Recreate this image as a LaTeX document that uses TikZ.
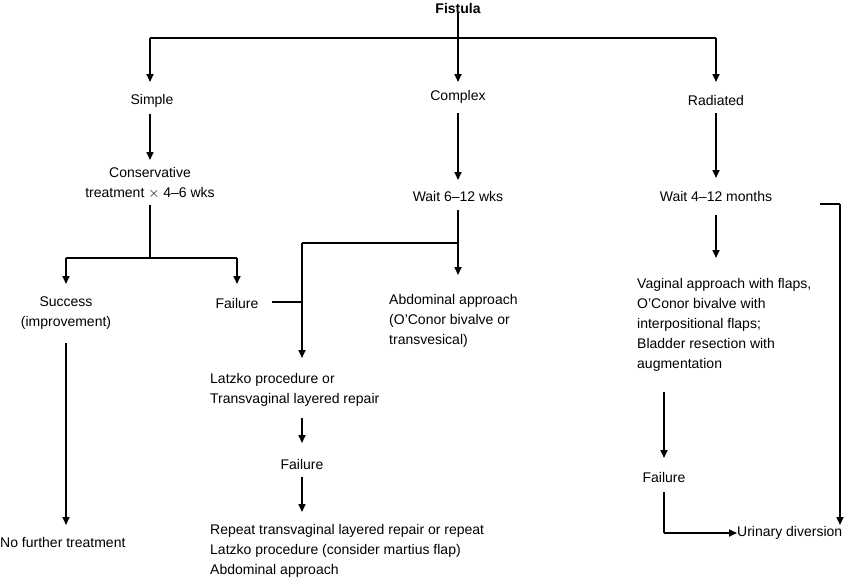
\documentclass[tikz,border=0pt]{standalone}
\usepackage{fontspec}
\setmainfont{Liberation Sans}
\usetikzlibrary{arrows.meta}
\begin{document}
\begin{tikzpicture}[x=1pt,y=-1pt,
  t/.style={font=\fontsize{14}{20}\selectfont,inner sep=0pt,align=center},
  l/.style={t,anchor=north west,align=left},
  ln/.style={line width=1.6pt},
  ar/.style={ln,-{Triangle[length=8pt,width=7pt]}}]
\useasboundingbox (0,0) rectangle (850,581);
\node[t,font=\fontsize{14}{20}\selectfont\bfseries] (fis) at (458,8) {Fistula};
\node[t] (simple) at (152,101) {Simple};
\node[t] (complex) at (458,97) {Complex};
\node[t] (rad) at (716,100) {Radiated};
\node[t] (cons) at (150,183) {Conservative\\treatment $\times$ 4–6 wks};
\node[t] (succ) at (66,313) {Success\\(improvement)};
\node[t] (fail1) at (237,303) {Failure};
\node[t,anchor=west] (nft) at (0,542) {No further treatment};
\node[t] (wait1) at (458,196) {Wait 6–12 wks};
\node[l] (abd) at (389,294) {Abdominal approach\\(O’Conor bivalve or\\transvesical)};
\node[l] (lat) at (210,373) {Latzko procedure or\\Transvaginal layered repair};
\node[t] (fail2) at (302,464) {Failure};
\node[l] (rep) at (210,524) {Repeat transvaginal layered repair or repeat\\Latzko procedure (consider martius flap)\\Abdominal approach};
\node[t] (wait2) at (716,196) {Wait 4–12 months};
\node[l] (vag) at (637,278) {Vaginal approach with flaps,\\O’Conor bivalve with\\interpositional flaps;\\Bladder resection with\\augmentation};
\node[t] (fail3) at (664,477) {Failure};
\node[t,anchor=west] (uri) at (737,533) {Urinary diversion};
% top
\draw[ln] (150,38) -- (716,38);
\draw[ar] (fis.south) -- (458,82);
\draw[ar] (150,38) -- (150,82);
\draw[ar] (716,38) -- (716,82);
% simple
\draw[ar] (simple.south)+(-2,6) -- (150,160);
\draw[ln] (150,205) -- (150,258);
\draw[ln] (66,258) -- (237,258);
\draw[ar] (66,258) -- (66,284);
\draw[ar] (237,258) -- (237,284);
\draw[ar] (66,343) -- (66,525);
% complex
\draw[ar] (458,113) -- (458,180);
\draw[ln] (458,210) -- (458,243);
\draw[ar] (458,243) -- (458,275);
\draw[ln] (458,243) -- (302,243);
\draw[ln] (272,302) -- (302,302);
\draw[ar] (302,243) -- (302,358);
\draw[ar] (302,418) -- (302,443);
\draw[ar] (302,477) -- (302,512);
% radiated
\draw[ar] (716,113) -- (716,178);
\draw[ar] (716,215) -- (716,258);
\draw[ln] (820,204) -- (840,204);
\draw[ar] (840,204) -- (840,525);
\draw[ar] (664,392) -- (664,458);
\draw[ln] (664,492) -- (664,533);
\draw[ar] (664,533) -- (uri.west);
\end{tikzpicture}
\end{document}
